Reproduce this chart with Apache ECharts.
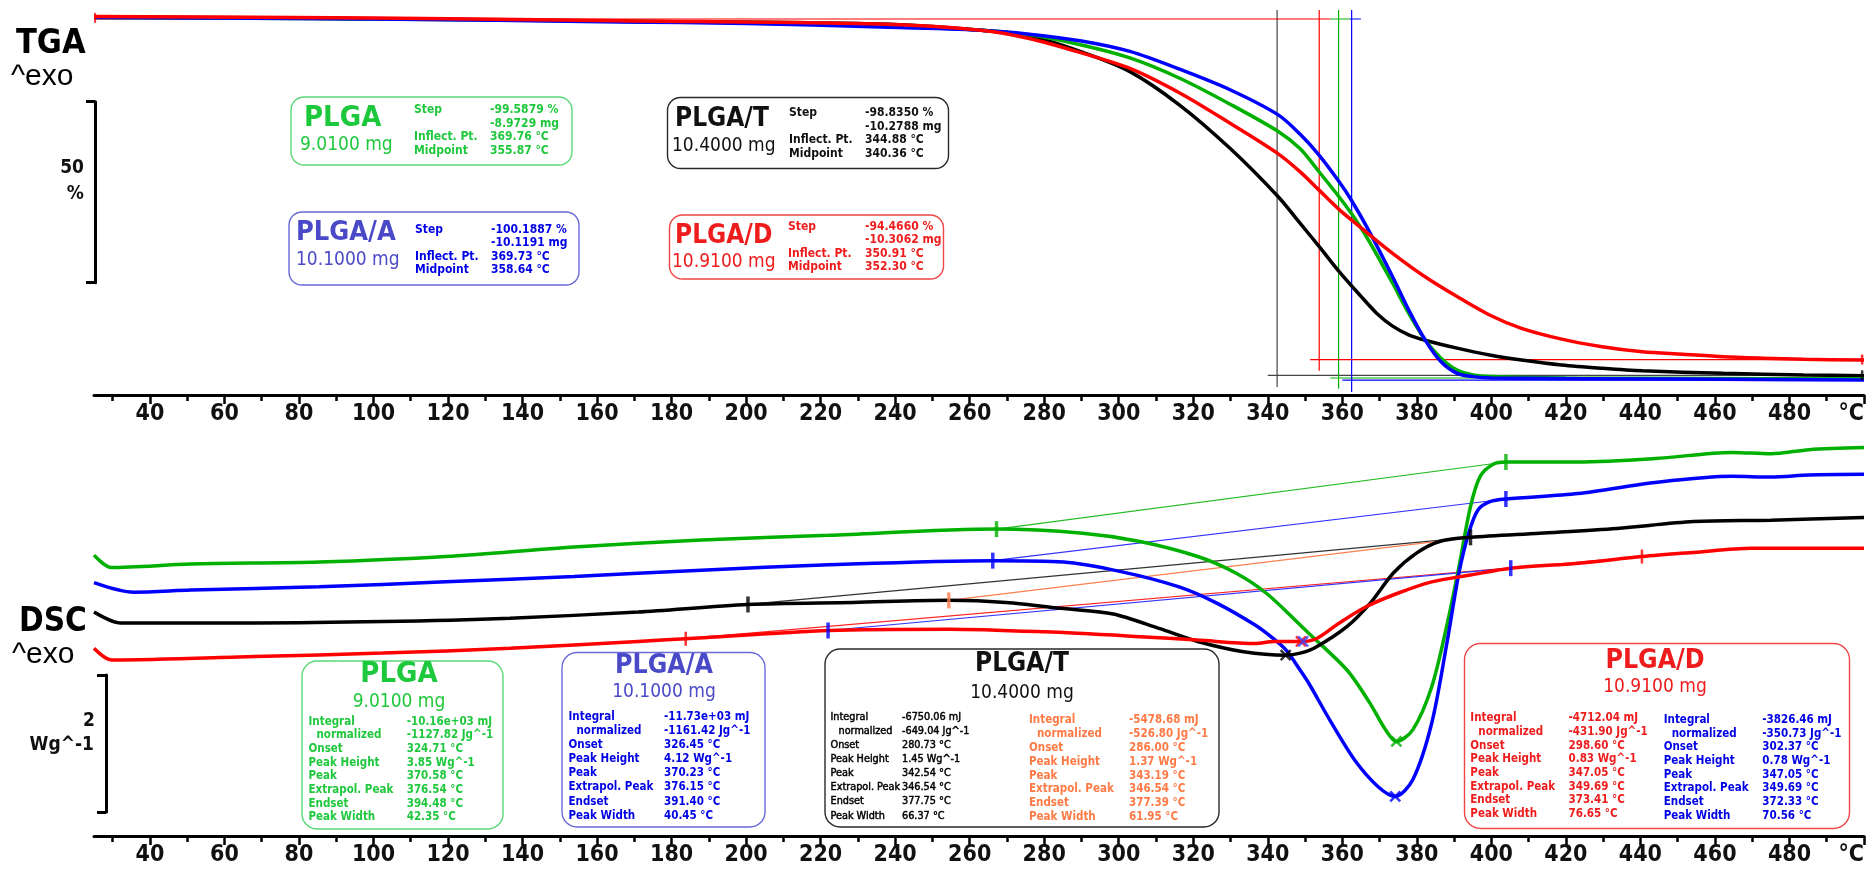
<!DOCTYPE html>
<html>
<head>
<meta charset="utf-8">
<title>TGA / DSC – PLGA samples</title>
<script src="https://cdn.jsdelivr.net/npm/echarts@6/dist/echarts.min.js"></script>
<style>
  html, body { margin: 0; padding: 0; background: #fff; }
  #chart { width: 1874px; height: 870px; }
</style>
</head>
<body>
<div id="chart"></div>
<script>
// ---------- temperature axis ----------
const majorTicks = [40, 60, 80, 100, 120, 140, 160, 180, 200, 220, 240, 260, 280, 300, 320, 340, 360, 380, 400, 420, 440, 460, 480, 500];
const minorTicks = [30, 50, 70, 90, 110, 130, 150, 170, 190, 210, 230, 250, 270, 290, 310, 330, 350, 370, 390, 410, 430, 450, 470, 490];

// ---------- samples ----------
const sampleNames = ['PLGA', 'PLGA/A', 'PLGA/T', 'PLGA/D'];
const sampleMasses = ['9.0100 mg', '10.1000 mg', '10.4000 mg', '10.9100 mg'];

// ---------- TGA curves: [°C, mass %] ----------
const tgaPLGA = [[25,100.4],[100,100.0],[166,99.4],[236,98.3],[263,96.9],[276,95.6],[290,92.8],[303,89.2],[316.5,83.5],[330,76.3],[342.8,68.8],[348.7,64.0],[353.7,57.7],[359.1,50.7],[362.4,46.1],[367,38.7],[373.5,26.7],[377.8,18.4],[382.2,11.0],[386.5,5.9],[390.8,2.6],[395.1,1.25],[399.5,0.8],[420,0.4],[460,0.3],[500,0.15]];
const tgaPLGA_A = [[25,100.4],[100,100.0],[166,99.2],[200,98.75],[236,97.8],[263,96.9],[276,95.8],[290,93.9],[303,91.0],[316.5,86.0],[330,80.3],[342.8,73.4],[348.7,68.0],[353.7,62.3],[359.1,54.9],[362.4,49.8],[367,41.5],[373.5,28.5],[377.8,19.3],[382.2,11.0],[386.5,4.9],[390.8,1.7],[395.1,0.8],[400,0.4],[450,0.15],[500,-0.15]];
const tgaPLGA_T = [[25,100.55],[100,100.1],[166,99.4],[236,98.6],[263,96.9],[276,95.3],[290,90.9],[303,85.4],[316.5,76.0],[330,64.0],[342.8,50.7],[348.7,43.3],[353.7,37.0],[359.1,30.0],[364.9,23.2],[369.2,18.4],[373.5,14.8],[377.8,12.4],[382.2,10.9],[390.8,8.7],[399.5,6.8],[408.1,5.4],[418.9,4.0],[429.7,3.1],[440.5,2.4],[462.2,1.7],[483.8,1.25],[500,1.05]];
const tgaPLGA_D = [[25,100.7],[100,100.3],[166,99.5],[236,98.6],[263,96.9],[276,94.6],[290,90.6],[303,86.3],[316.5,79.4],[330,71.0],[342.8,62.6],[348.7,57.6],[353.7,52.6],[359.1,47.2],[364.9,42.2],[373.5,35.0],[382.2,28.5],[390.8,23.0],[399.5,17.9],[408.1,14.2],[418.9,11.2],[429.7,9.1],[440.5,7.7],[451.4,7.0],[462.2,6.3],[473,5.9],[483.8,5.6],[500,5.4]];

// TGA evaluation: step sizes (%), marker temperature, marker lower end, step-line limits
const tgaStep = [-99.5879, -100.1887, -98.8350, -94.4660];
const tgaMarkT = [359.0, 362.5, 342.5, 353.8];
const tgaMarkLow = [-2.6, -3.5, -2.1, 2.4];
const tgaTopStart = [356.8, 362.0, 25.0, 25.0];
const tgaTopEnd = [362.0, 365.0, 25.0, 356.8];
const tgaBottomStart = [356.8, 360.0, 340.0, 351.4];

// TGA result tables
const tgaRowLabels = ['Step', '', 'Inflect. Pt.', 'Midpoint'];
const tgaPLGAText = ['-99.5879 %', '-8.9729 mg', '369.76 °C', '355.87 °C'];
const tgaPLGA_AText = ['-100.1887 %', '-10.1191 mg', '369.73 °C', '358.64 °C'];
const tgaPLGA_TText = ['-98.8350 %', '-10.2788 mg', '344.88 °C', '340.36 °C'];
const tgaPLGA_DText = ['-94.4660 %', '-10.3062 mg', '350.91 °C', '352.30 °C'];

// ---------- DSC curves: [°C, heat flow W/g, stacked] ----------
const dscPLGA = [[25,4.10],[29.7,3.92],[51,3.97],[85.4,4.00],[119.4,4.08],[153.8,4.22],[188,4.32],[222.2,4.39],[267.2,4.48],[290.3,4.42],[305.7,4.30],[321.2,4.08],[331.4,3.84],[339.7,3.54],[348.7,3.08],[351,2.96],[361.3,2.42],[367.4,1.94],[371.6,1.55],[374.5,1.38],[378.9,1.55],[384,2.18],[388.2,3.11],[391.3,3.93],[394.4,4.81],[397,5.25],[400.6,5.43],[403.9,5.46],[423.3,5.46],[444,5.51],[464.6,5.60],[475,5.58],[485.3,5.64],[500,5.67]];
const dscPLGA_A = [[25,3.70],[35.7,3.56],[51,3.59],[85.4,3.64],[119.4,3.71],[153.8,3.79],[188,3.88],[222.2,3.96],[266.2,4.02],[285.2,4.00],[300.6,3.86],[316,3.64],[326.3,3.40],[336.6,3.08],[340.6,2.92],[344.8,2.72],[348.7,2.42],[351,2.23],[357.1,1.65],[363.3,1.11],[369.6,0.72],[374.2,0.58],[378.9,0.82],[384,1.65],[388.2,2.86],[391.3,3.84],[393.9,4.42],[396.4,4.76],[399.6,4.88],[403.9,4.92],[423.3,5.00],[444,5.16],[464.6,5.25],[475,5.24],[485.3,5.27],[500,5.28]];
const dscPLGA_T = [[25,3.27],[32.2,3.11],[68.2,3.11],[102.5,3.13],[136.6,3.18],[171,3.27],[200.5,3.38],[228.7,3.41],[254.4,3.44],[269.7,3.41],[285.2,3.32],[298.5,3.24],[310.8,3.03],[321.2,2.84],[333.5,2.69],[344.8,2.64],[348.7,2.67],[353,2.76],[361.3,3.06],[367.5,3.40],[373.7,3.84],[379.9,4.13],[386.1,4.30],[394.4,4.36],[413,4.42],[433.7,4.49],[454.3,4.59],[475,4.61],[500,4.65]];
const dscPLGA_D = [[25,2.74],[29.7,2.57],[68.2,2.62],[102.5,2.67],[136.6,2.74],[171,2.84],[183.8,2.88],[222.2,3.00],[254.4,3.02],[280.1,2.98],[305.7,2.91],[321.2,2.86],[336.6,2.81],[341.7,2.84],[348.9,2.84],[353,2.88],[359.2,3.11],[366.5,3.35],[374.7,3.54],[384,3.71],[394.4,3.81],[405.2,3.91],[423.3,3.98],[440.4,4.08],[454.3,4.14],[469.8,4.20],[500,4.20]];

// DSC integration limits (baseline end points) and peak points
const limPLGA = [[267.2, 4.48], [403.9, 5.46]];
const limPLGA_A = [[266.2, 4.02], [403.9, 4.92]];
const limPLGA_T = [[200.5, 3.38], [394.4, 4.36]];
const limPLGA_T2 = [[254.4, 3.44], [394.4, 4.36]];
const limPLGA_D = [[183.8, 2.88], [440.4, 4.08]];
const limPLGA_D2 = [[222.0, 3.00], [405.2, 3.91]];
const peakPLGA = [374.5, 1.38];
const peakPLGA_A = [374.2, 0.58];
const peakPLGA_T = [344.8, 2.64];
const peakPLGA_D = [348.9, 2.84];

// DSC result tables
const dscRowLabels = ['Integral', 'normalized', 'Onset', 'Peak Height', 'Peak', 'Extrapol. Peak', 'Endset', 'Peak Width'];
const dscPLGAText = ['-10.16e+03 mJ', '-1127.82 Jg^-1', '324.71 °C', '3.85 Wg^-1', '370.58 °C', '376.54 °C', '394.48 °C', '42.35 °C'];
const dscPLGA_AText = ['-11.73e+03 mJ', '-1161.42 Jg^-1', '326.45 °C', '4.12 Wg^-1', '370.23 °C', '376.15 °C', '391.40 °C', '40.45 °C'];
const dscPLGA_TText = ['-6750.06 mJ', '-649.04 Jg^-1', '280.73 °C', '1.45 Wg^-1', '342.54 °C', '346.54 °C', '377.75 °C', '66.37 °C'];
const dscPLGA_T2Text = ['-5478.68 mJ', '-526.80 Jg^-1', '286.00 °C', '1.37 Wg^-1', '343.19 °C', '346.54 °C', '377.39 °C', '61.95 °C'];
const dscPLGA_DText = ['-4712.04 mJ', '-431.90 Jg^-1', '298.60 °C', '0.83 Wg^-1', '347.05 °C', '349.69 °C', '373.41 °C', '76.65 °C'];
const dscPLGA_D2Text = ['-3826.46 mJ', '-350.73 Jg^-1', '302.37 °C', '0.78 Wg^-1', '347.05 °C', '349.69 °C', '372.33 °C', '70.56 °C'];

// ---------- styling ----------
const C = { green: '#00b000', blue: '#0000ff', black: '#000000', red: '#ff0000', orange: '#ff7f50' };
const TXT = { green: '#1ec83c', slate: '#4a4ac8', blue: '#0000e6', black: '#111111', red: '#ee1c1c', orange: '#ff7a45' };
const BORDER = { green: '#5ad877', blue: '#6a6ad8', black: '#2a2a2a', red: '#f04646' };
const F_NARROW = '"Liberation Sans Narrow", "Arial Narrow", "DejaVu Sans Condensed", sans-serif';
const F_SMALL = '"DejaVu Sans Condensed", "DejaVu Sans", Verdana, sans-serif';

const chart = echarts.init(document.getElementById('chart'), null, { renderer: 'canvas' });

// ---------- helpers ----------
function curve(data, color, xi, yi) {
  return { type: 'line', data, xAxisIndex: xi, yAxisIndex: yi, smooth: 0.3, showSymbol: false,
    silent: true, lineStyle: { color, width: 3.5 }, z: 5 };
}
function thin(data, color, xi, yi, w) {
  return { type: 'line', data, xAxisIndex: xi, yAxisIndex: yi, showSymbol: false, silent: true,
    lineStyle: { color, width: w || 1.2 }, z: 3 };
}
function ticksMarks(data, color, xi, yi, size) {
  return { type: 'scatter', data, xAxisIndex: xi, yAxisIndex: yi, symbol: 'rect', symbolSize: size || [3.5, 16],
    silent: true, itemStyle: { color }, z: 6 };
}
function crossMark(point, color) {
  return { type: 'scatter', data: [point], xAxisIndex: 2, yAxisIndex: 1, symbol: 'path://M0 0L10 10M10 0L0 10',
    symbolSize: 10, silent: true, itemStyle: { color: 'rgba(0,0,0,0)', borderColor: color, borderWidth: 2.5 }, z: 7 };
}
function txt(x, y, s, font, fill, align, heavy) {
  const style = { text: s, font, fill, align: align || 'left', verticalAlign: 'middle' };
  if (heavy) { style.stroke = fill; style.lineWidth = heavy; }
  return { type: 'text', x, y, silent: true, z: 10, style };
}
function frame(x, y, w, h, stroke, r) {
  return { type: 'rect', silent: true, z: 9, shape: { x, y, width: w, height: h, r: r || 13 },
    style: { fill: 'rgba(0,0,0,0)', stroke, lineWidth: 1.4 } };
}
function column(list, x, y0, dy, font, fill, indentIdx, heavy) {
  const out = [];
  list.forEach((s, i) => { if (s) out.push(txt(x + (i === indentIdx ? 8 : 0), y0 + i * dy, s, font, fill, 'left', heavy)); });
  return out;
}

// ---------- series ----------
const series = [];
const tgaColors = [C.green, C.blue, C.black, C.red];
const tgaCurves = [tgaPLGA, tgaPLGA_A, tgaPLGA_T, tgaPLGA_D];

// TGA evaluation lines (drawn below the curves)
[2, 0, 1, 3].forEach(i => {
  const col = i === 2 ? '#444444' : tgaColors[i];
  series.push(thin([[tgaMarkT[i], 102.5], [tgaMarkT[i], tgaMarkLow[i]]], col, 0, 0));
  if (tgaTopEnd[i] > tgaTopStart[i]) series.push(thin([[tgaTopStart[i], 100], [tgaTopEnd[i], 100]], col, 0, 0));
  series.push(thin([[tgaBottomStart[i], 100 + tgaStep[i]], [500, 100 + tgaStep[i]]], col, 0, 0));
});
// TGA curves
[2, 0, 1, 3].forEach(i => series.push(curve(tgaCurves[i], tgaColors[i], 0, 0)));
series.push(ticksMarks([[25.3, 100.3]], C.red, 0, 0, [2, 10]));
series.push(ticksMarks([[499.5, 100 + tgaStep[3]]], C.red, 0, 0, [2.5, 10]));
series.push(ticksMarks([[499.5, 100 + tgaStep[2]]], C.black, 0, 0, [2.5, 10]));

// DSC baselines
series.push(thin(limPLGA, '#22bb22', 2, 1));
series.push(thin(limPLGA_A, '#3333ff', 2, 1));
series.push(thin(limPLGA_T, '#333333', 2, 1));
series.push(thin(limPLGA_T2, C.orange, 2, 1));
series.push(thin(limPLGA_D, '#ff2222', 2, 1));
series.push(thin(limPLGA_D2, '#3333ff', 2, 1));
// DSC curves
series.push(curve(dscPLGA, C.green, 2, 1));
series.push(curve(dscPLGA_A, C.blue, 2, 1));
series.push(curve(dscPLGA_T, C.black, 2, 1));
series.push(curve(dscPLGA_D, C.red, 2, 1));
// DSC limit markers and peaks
series.push(ticksMarks(limPLGA, C.green, 2, 1));
series.push(ticksMarks(limPLGA_A, C.blue, 2, 1));
series.push(ticksMarks(limPLGA_T, C.black, 2, 1));
series.push(ticksMarks([limPLGA_T2[0]], C.orange, 2, 1));
series.push(ticksMarks([limPLGA_D[0], limPLGA_D[1]], C.red, 2, 1, [2.5, 14]));
series.push(ticksMarks(limPLGA_D2, C.blue, 2, 1));
series.push(crossMark(peakPLGA, C.green));
series.push(crossMark(peakPLGA_A, C.blue));
series.push(crossMark(peakPLGA_T, C.black));
series.push(crossMark(peakPLGA_D, C.red));
series.push(crossMark([peakPLGA_D[0] + 0.6, peakPLGA_D[1]], '#4040ff'));

// scale-bar axes need a series each to be laid out
series.push({ type: 'line', data: [], xAxisIndex: 4, yAxisIndex: 2, silent: true });
series.push({ type: 'line', data: [], xAxisIndex: 5, yAxisIndex: 3, silent: true });

// ---------- axes ----------
function tempAxis(grid, major) {
  if (major) {
    return { type: 'value', gridIndex: grid, min: 25, max: 500, position: 'bottom', offset: 0,
      axisLine: { show: true, onZero: false, lineStyle: { color: '#000', width: 3 } },
      axisTick: { show: true, customValues: majorTicks, length: 9, lineStyle: { color: '#000', width: 2.5 } },
      axisLabel: { show: true, customValues: majorTicks, margin: 8, alignMaxLabel: 'right',
        formatter: v => (v === 500 ? '°C' : String(v)),
        fontFamily: F_NARROW, fontWeight: 'bold', fontSize: 23, color: '#111' },
      splitLine: { show: false } };
  }
  return { type: 'value', gridIndex: grid, min: 25, max: 500, position: 'bottom', offset: 0,
    axisLine: { show: false, onZero: false },
    axisTick: { show: true, customValues: minorTicks, length: 6, lineStyle: { color: '#000', width: 2.5 } },
    axisLabel: { show: false }, splitLine: { show: false } };
}
function barAxis(grid, max) {
  return { type: 'value', gridIndex: grid, min: 0, max, interval: max, position: 'left',
    axisLine: { show: true, onZero: false, lineStyle: { color: '#000', width: 3 } },
    axisTick: { show: true, length: 9, lineStyle: { color: '#000', width: 3 } },
    axisLabel: { show: false }, splitLine: { show: false } };
}
const hiddenX = g => ({ type: 'value', gridIndex: g, min: 0, max: 1, show: false });

// ---------- annotation graphics ----------
const g = [];
g.push(txt(16, 44, 'TGA', 'bold 34px ' + F_NARROW, '#000'));
g.push(txt(11, 77, '^exo', '30px "Liberation Sans", Arial, sans-serif', '#000'));
g.push(txt(19, 622, 'DSC', 'bold 33px ' + F_NARROW, '#000'));
g.push(txt(12, 655, '^exo', '30px "Liberation Sans", Arial, sans-serif', '#000'));
g.push(txt(84, 168, '50', 'bold 19px ' + F_SMALL, '#111', 'right'));
g.push(txt(84, 194, '%', 'bold 19px ' + F_SMALL, '#111', 'right'));
g.push(txt(95, 721, '2', 'bold 19px ' + F_SMALL, '#111', 'right'));
g.push(txt(94, 745, 'Wg^-1', 'bold 19px ' + F_SMALL, '#111', 'right'));

const fRowT = 'bold 12px ' + F_SMALL;
const fRowD = 'bold 11.5px ' + F_SMALL;
const fRowPlain = '10.8px ' + F_SMALL;
const fMass = '19px ' + F_NARROW;
const fTitle = s => 'bold ' + s + 'px ' + F_NARROW;

// TGA result boxes
g.push(frame(291, 97, 281, 68, BORDER.green));
g.push(txt(304, 118, sampleNames[0], fTitle(29), TXT.green));
g.push(txt(300, 145, sampleMasses[0], fMass, TXT.green));
g.push(...column(tgaRowLabels, 414, 110, 13.6, fRowT, TXT.green));
g.push(...column(tgaPLGAText, 490, 110, 13.6, fRowT, TXT.green));

g.push(frame(289, 212, 290, 73, BORDER.blue));
g.push(txt(296, 233, sampleNames[1], fTitle(27), TXT.slate));
g.push(txt(296, 260.5, sampleMasses[1], fMass, TXT.slate));
g.push(...column(tgaRowLabels, 415, 229.5, 13.6, fRowT, TXT.blue));
g.push(...column(tgaPLGA_AText, 491, 229.5, 13.6, fRowT, TXT.blue));

g.push(frame(667.5, 97.5, 281, 71, BORDER.black));
g.push(txt(675, 119.5, sampleNames[2], fTitle(26), TXT.black));
g.push(txt(672, 146, sampleMasses[2], fMass, TXT.black));
g.push(...column(tgaRowLabels, 789, 113.3, 13.4, fRowT, TXT.black));
g.push(...column(tgaPLGA_TText, 865, 113.3, 13.4, fRowT, TXT.black));

g.push(frame(669.5, 215, 274, 64, BORDER.red));
g.push(txt(675, 236, sampleNames[3], fTitle(26), TXT.red));
g.push(txt(672, 262.5, sampleMasses[3], fMass, TXT.red));
g.push(...column(tgaRowLabels, 788, 226.7, 13.4, fRowT, TXT.red));
g.push(...column(tgaPLGA_DText, 865, 226.7, 13.4, fRowT, TXT.red));

// DSC result boxes
g.push(frame(302, 661, 201, 168, BORDER.green, 15));
g.push(txt(399, 674, sampleNames[0], fTitle(29), TXT.green, 'center'));
g.push(txt(399, 702.5, sampleMasses[0], fMass, TXT.green, 'center'));
g.push(...column(dscRowLabels, 308.5, 721.7, 13.66, fRowD, TXT.green, 1));
g.push(...column(dscPLGAText, 406.7, 721.7, 13.66, fRowD, TXT.green));

g.push(frame(562, 652.5, 203, 174.5, BORDER.blue, 15));
g.push(txt(664, 666, sampleNames[1], fTitle(26.5), TXT.slate, 'center'));
g.push(txt(664, 692, sampleMasses[1], fMass, TXT.slate, 'center'));
g.push(...column(dscRowLabels, 568.5, 717, 14.1, fRowD, TXT.blue, 1));
g.push(...column(dscPLGA_AText, 664, 717, 14.1, fRowD, TXT.blue));

g.push(frame(825, 649, 394, 178, BORDER.black, 15));
g.push(txt(1022, 664.5, sampleNames[2], fTitle(26), TXT.black, 'center'));
g.push(txt(1022, 693, sampleMasses[2], fMass, TXT.black, 'center'));
g.push(...column(dscRowLabels, 830.5, 717, 14.1, fRowPlain, '#000', 1, 0.45));
g.push(...column(dscPLGA_TText, 902, 717, 14.1, fRowPlain, '#000', -1, 0.45));
g.push(...column(dscRowLabels, 1029, 720, 13.9, fRowD, TXT.orange, 1));
g.push(...column(dscPLGA_T2Text, 1129, 720, 13.9, fRowD, TXT.orange));

g.push(frame(1464.5, 643.5, 385, 185, BORDER.red, 16));
g.push(txt(1655, 661, sampleNames[3], fTitle(26.5), TXT.red, 'center'));
g.push(txt(1655, 687.5, sampleMasses[3], fMass, TXT.red, 'center'));
g.push(...column(dscRowLabels, 1470.3, 718.3, 13.67, fRowD, TXT.red, 1));
g.push(...column(dscPLGA_DText, 1568.5, 718.3, 13.67, fRowD, TXT.red));
g.push(...column(dscRowLabels, 1663.7, 720, 13.67, fRowD, TXT.blue, 1));
g.push(...column(dscPLGA_D2Text, 1762.3, 720, 13.67, fRowD, TXT.blue));

chart.setOption({
  animation: false,
  backgroundColor: '#ffffff',
  grid: [
    { left: 94, top: 0, width: 1770, height: 395 },       // TGA
    { left: 94, top: 440, width: 1770, height: 396 },     // DSC
    { left: 95, top: 101.7, width: 10, height: 181 },     // 50 % scale bar
    { left: 106, top: 675, width: 10, height: 137 }       // 2 W/g scale bar
  ],
  xAxis: [tempAxis(0, true), tempAxis(0, false), tempAxis(1, true), tempAxis(1, false), hiddenX(2), hiddenX(3)],
  yAxis: [
    { type: 'value', gridIndex: 0, min: -4.3, max: 105.27, show: false },
    { type: 'value', gridIndex: 1, min: 0, max: 5.781, show: false },
    barAxis(2, 50),
    barAxis(3, 2)
  ],
  series,
  graphic: g
});
</script>
</body>
</html>
